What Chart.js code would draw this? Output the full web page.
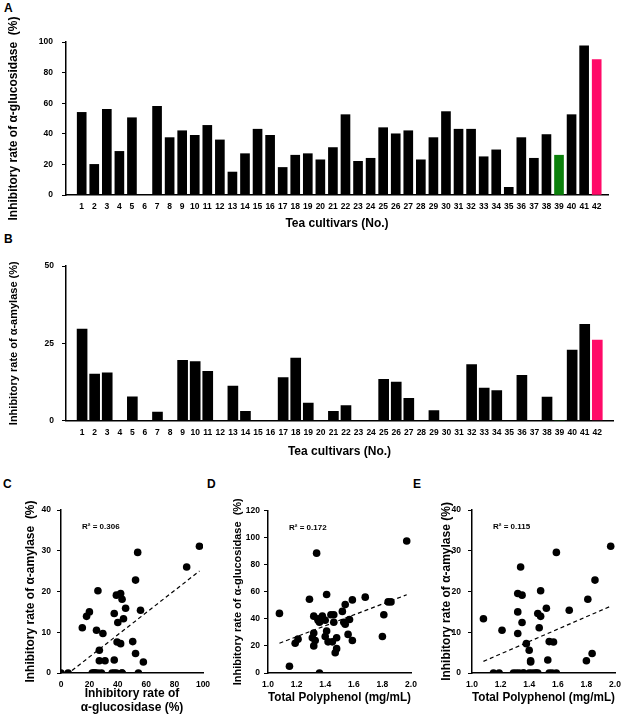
<!DOCTYPE html>
<html lang="en">
<head>
<meta charset="UTF-8">
<title>Inhibitory activity of tea cultivars</title>
<script src="https://cdn.jsdelivr.net/npm/chart.js@4.4.1/dist/chart.umd.min.js"></script>
<style>
  body { margin: 0; background: #fff; width: 625px; height: 721px; position: relative; overflow: hidden; }
  canvas { position: absolute; }
  .tag { position: absolute; font: bold 12px 'Liberation Sans', Arial, sans-serif; color: #000; }
</style>
</head>
<body>
<div class="tag" style="left:4px;top:1px">A</div>
<div class="tag" style="left:4px;top:232px">B</div>
<div class="tag" style="left:3px;top:477px">C</div>
<div class="tag" style="left:207px;top:477px">D</div>
<div class="tag" style="left:413px;top:477px">E</div>

<canvas id="chartA" width="625" height="236" style="left:0;top:0"></canvas>
<canvas id="chartB" width="625" height="230" style="left:0;top:236px"></canvas>
<canvas id="chartC" width="214" height="245" style="left:0;top:476px"></canvas>
<canvas id="chartD" width="214" height="245" style="left:205px;top:476px"></canvas>
<canvas id="chartE" width="210" height="245" style="left:415px;top:476px"></canvas>

<script>
  // data
  const cultivars = [1, 2, 3, 4, 5, 6, 7, 8, 9, 10, 11, 12, 13, 14, 15, 16, 17, 18, 19, 20, 21,
    22, 23, 24, 25, 26, 27, 28, 29, 30, 31, 32, 33, 34, 35, 36, 37, 38, 39, 40, 41, 42];
  // alpha-glucosidase inhibition (%)
  const glucosidase = [54, 20, 56, 28.5, 50.5, 0, 58, 37.5, 42, 39, 45.5, 36, 15, 27, 43, 39, 18, 26, 27, 23, 31,
    52.5, 22, 24, 44, 40, 42, 23, 37.5, 54.5, 43, 43, 25, 29.5, 5, 37.5, 24, 39.5, 26, 52.5, 97.5, 88.5];
  // alpha-amylase inhibition (%)
  const amylase = [29.6, 15, 15.4, 0, 7.7, 0, 2.7, 0, 19.5, 19.1, 15.9, 0, 11.1, 3, 0, 0, 13.9, 20.2, 5.6, 0, 3,
    4.8, 0, 0, 13.3, 12.4, 7.2, 0, 3.2, 0, 0, 18.1, 10.5, 9.7, 0, 14.6, 0, 7.6, 0, 22.8, 31.1, 26];
  // total polyphenol (mg/mL)
  const polyphenol = [1.59, 1.32, 1.68, 1.56, 1.54, 1.36, 1.41, 1.36, 1.32, 1.35, 1.52, 1.54, 1.47, 1.80, 1.46, 1.40,
    1.48, 1.48, 1.40, 1.42, 1.41, 1.84, 1.19, 1.59, 1.08, 1.35, 1.38, 1.45, 1.53, 1.29, 1.44, 1.81, 1.21, 1.32,
    1.15, 1.46, 1.33, 1.57, 1.31, 1.86, 1.97, 1.34];

  const glucTicks = [0, 20, 40, 60, 80, 100];
  const amylTicks = [0, 25, 50];
  const r2 = { C: 'R² = 0.306', D: 'R² = 0.172', E: 'R² = 0.115' };

  const FONT = "'Liberation Sans', Arial, sans-serif";
  Chart.defaults.font.family = FONT;
  Chart.defaults.color = '#000';

  function barColor(n) {
    if (n === 39) return '#0b800b';
    if (n === 42) return '#ff0a68';
    return '#000';
  }

  // pin the axis box sizes so the plot area lands where the figure has it
  function fixBox(size, horizontal) {
    return function (scale) {
      if (horizontal) scale.height = size; else scale.width = size;
      scale.paddingLeft = scale.paddingRight = scale.paddingTop = scale.paddingBottom = 0;
    };
  }

  function fitLine(xs, ys) {
    const n = xs.length;
    const mx = xs.reduce((a, b) => a + b, 0) / n;
    const my = ys.reduce((a, b) => a + b, 0) / n;
    let sxy = 0, sxx = 0;
    for (let i = 0; i < n; i++) {
      sxy += (xs[i] - mx) * (ys[i] - my);
      sxx += (xs[i] - mx) * (xs[i] - mx);
    }
    const k = sxy / sxx, b = my - k * mx;
    const x0 = Math.min(...xs), x1 = Math.max(...xs);
    return [{ x: x0, y: k * x0 + b }, { x: x1, y: k * x1 + b }];
  }

  const notePlugin = {
    id: 'note',
    afterDatasetsDraw(chart, args, opts) {
      if (!opts.text) return;
      const { ctx, chartArea } = chart;
      ctx.save();
      ctx.font = 'bold 8px ' + FONT;
      ctx.fillStyle = '#000';
      ctx.textBaseline = 'middle';
      ctx.fillText(opts.text, chartArea.left + 21, chartArea.top + 17);
      ctx.restore();
    }
  };

  const tickFont = { size: 8.5, weight: 'bold' };
  const axisBorder = { color: '#000', width: 1.5 };
  const xGrid = { display: false, drawTicks: false, tickLength: 0, offset: false };
  const yGrid = { drawOnChartArea: false, drawTicks: true, tickLength: 4, color: '#000', lineWidth: 1 };

  function barChart(id, values, opt) {
    return new Chart(document.getElementById(id), {
      type: 'bar',
      data: {
        datasets: [{
          data: cultivars.map((c, i) => ({ x: c, y: values[i] })),
          backgroundColor: cultivars.map(barColor),
          barThickness: opt.barWidth
        }]
      },
      options: {
        responsive: false,
        animation: false,
        layout: { padding: opt.padding },
        plugins: { legend: { display: false }, tooltip: { enabled: false } },
        scales: {
          x: {
            type: 'linear', offset: false, min: opt.xMin, max: opt.xMax,
            afterBuildTicks: s => { s.ticks = cultivars.map(v => ({ value: v })); },
            grid: xGrid,
            border: axisBorder,
            ticks: { font: tickFont, padding: opt.xTickPad, autoSkip: false, maxRotation: 0, callback: v => String(v) },
            title: { display: true, text: 'Tea cultivars (No.)', font: { size: 12, weight: 'bold' }, padding: 0 },
            afterFit: fixBox(opt.xHeight, true)
          },
          y: {
            min: 0, max: opt.yTicks[opt.yTicks.length - 1],
            afterBuildTicks: s => { s.ticks = opt.yTicks.map(v => ({ value: v })); },
            grid: yGrid,
            border: axisBorder,
            ticks: { font: tickFont, padding: opt.yTickPad },
            title: { display: true, text: opt.yTitle, font: { size: opt.yTitleSize, weight: 'bold' }, padding: 0 },
            afterFit: fixBox(opt.yWidth, false)
          }
        }
      }
    });
  }

  barChart('chartA', glucosidase, {
    barWidth: 9, xMin: -0.25, xMax: 42.9, yTicks: glucTicks,
    padding: { left: 6, right: 17, top: 42, bottom: 5 },
    xHeight: 36, xTickPad: 7, yWidth: 60, yTickPad: 9, yTitleSize: 12,
    yTitle: 'Inhibitory rate of α-glucosidase  (%)'
  });

  barChart('chartB', amylase, {
    barWidth: 10, xMin: -0.28, xMax: 43.25, yTicks: amylTicks,
    padding: { left: 7, right: 12, top: 30, bottom: 7 },
    xHeight: 38.5, xTickPad: 7, yWidth: 59, yTickPad: 8, yTitleSize: 11,
    yTitle: 'Inhibitory rate of α-amylase (%)'
  });

  function scatterChart(id, xs, ys, opt) {
    return new Chart(document.getElementById(id), {
      type: 'scatter',
      data: {
        datasets: [
          {
            data: xs.map((x, i) => ({ x: x, y: ys[i] })),
            pointRadius: 3.8, pointBackgroundColor: '#000', pointBorderColor: '#000', pointBorderWidth: 0
          },
          {
            data: fitLine(xs, ys), showLine: true, pointRadius: 0,
            borderColor: '#000', borderWidth: 1.2, borderDash: [4, 3]
          }
        ]
      },
      options: {
        responsive: false,
        animation: false,
        layout: { padding: opt.padding },
        plugins: { legend: { display: false }, tooltip: { enabled: false }, note: { text: opt.note } },
        scales: {
          x: {
            type: 'linear', min: opt.xTicks[0], max: opt.xTicks[opt.xTicks.length - 1],
            afterBuildTicks: s => { s.ticks = opt.xTicks.map(v => ({ value: v })); },
            grid: xGrid,
            border: axisBorder,
            ticks: { font: tickFont, padding: 7, maxRotation: 0, autoSkip: false, callback: opt.xFormat },
            title: { display: true, text: opt.xTitle, font: { size: 12, weight: 'bold' }, padding: 0 },
            afterFit: fixBox(opt.xHeight, true)
          },
          y: {
            min: 0, max: opt.yTicks[opt.yTicks.length - 1],
            afterBuildTicks: s => { s.ticks = opt.yTicks.map(v => ({ value: v })); },
            grid: yGrid,
            border: axisBorder,
            ticks: { font: tickFont, padding: opt.yTickPad },
            title: { display: true, text: opt.yTitle, font: { size: opt.yTitleSize, weight: 'bold' }, padding: 0 },
            afterFit: fixBox(opt.yWidth, false)
          }
        }
      },
      plugins: [notePlugin]
    });
  }

  const oneDecimal = v => v.toFixed(1);

  scatterChart('chartC', glucosidase, amylase, {
    xTicks: [0, 20, 40, 60, 80, 100], yTicks: [0, 10, 20, 30, 40], xFormat: v => String(v),
    padding: { left: 23, right: 11, top: 34, bottom: 6 },
    xHeight: 42, yWidth: 38, yTickPad: 6, yTitleSize: 12,
    xTitle: ['Inhibitory rate of', 'α-glucosidase (%)'],
    yTitle: 'Inhibitory rate of α-amylase  (%)', note: r2.C
  });

  scatterChart('chartD', polyphenol, glucosidase, {
    xTicks: [1.0, 1.2, 1.4, 1.6, 1.8, 2.0], yTicks: [0, 20, 40, 60, 80, 100, 120], xFormat: oneDecimal,
    padding: { left: 26, right: 8, top: 34.5, bottom: 16 },
    xHeight: 32, yWidth: 37, yTickPad: 4, yTitleSize: 11,
    xTitle: 'Total Polyphenol (mg/mL)',
    yTitle: 'Inhibitory rate of α-glucosidase  (%)', note: r2.D
  });

  scatterChart('chartE', polyphenol, amylase, {
    xTicks: [1.0, 1.2, 1.4, 1.6, 1.8, 2.0], yTicks: [0, 10, 20, 30, 40], xFormat: oneDecimal,
    padding: { left: 24, right: 10, top: 34, bottom: 16 },
    xHeight: 32, yWidth: 33, yTickPad: 7, yTitleSize: 12,
    xTitle: 'Total Polyphenol (mg/mL)',
    yTitle: 'Inhibitory rate of α-amylase (%)', note: r2.E
  });
</script>
</body>
</html>
